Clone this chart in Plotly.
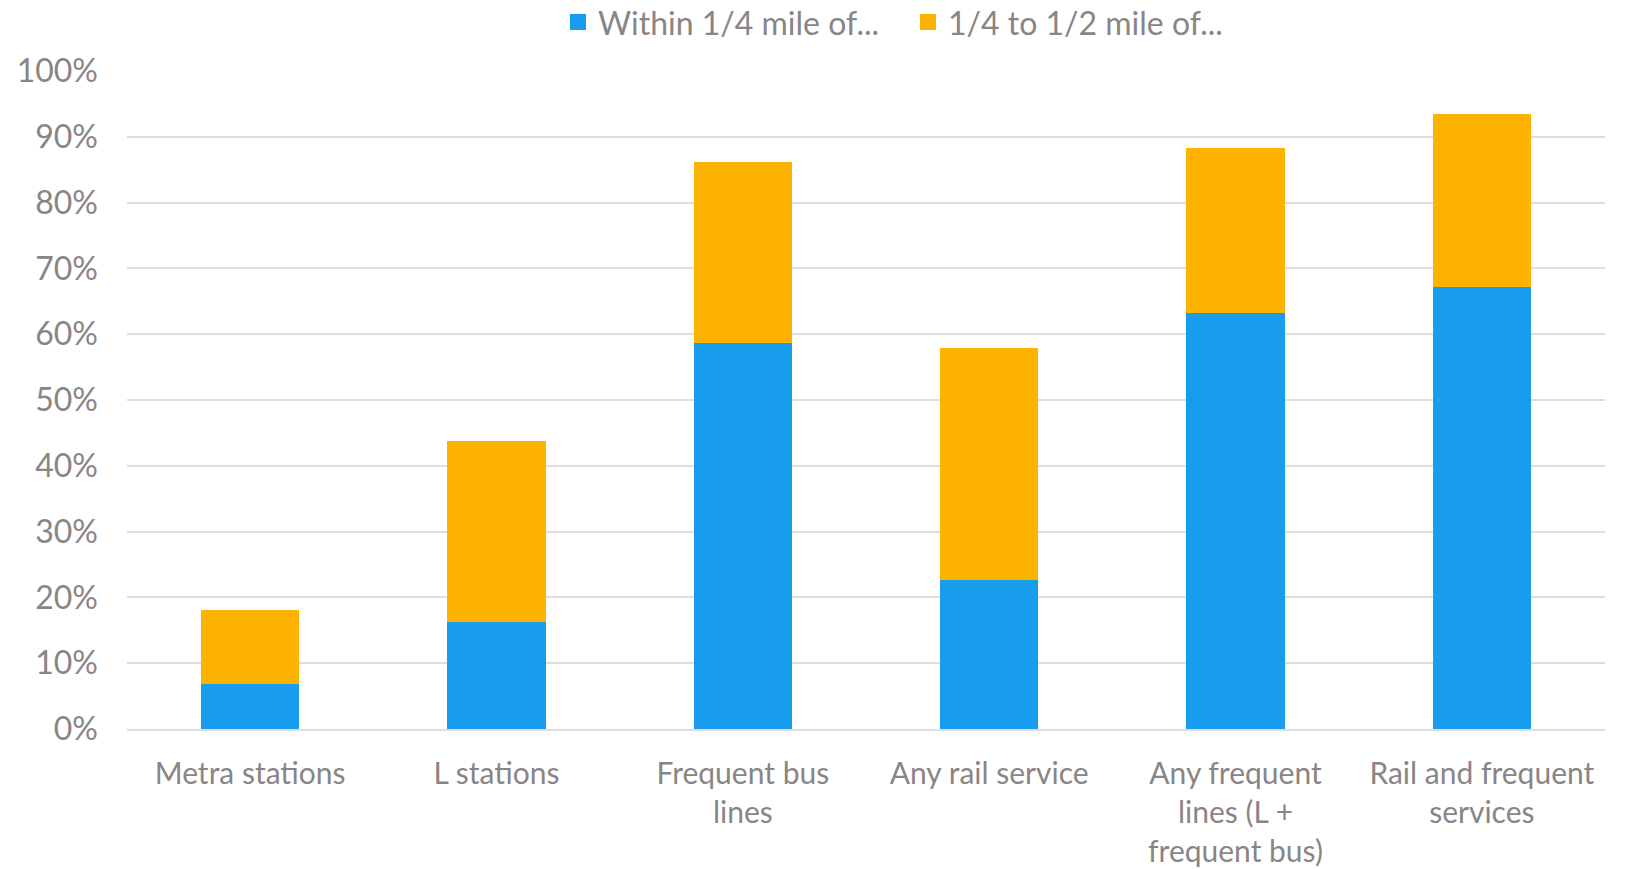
import plotly.graph_objects as go

categories = ["Metra stations", "L stations", "Frequent bus<br>lines", "Any rail service",
              "Any frequent<br>lines (L +<br>frequent bus)", "Rail and frequent<br>services"]
series_names = ["Within 1/4 mile of...", "1/4 to 1/2 mile of..."]
within_quarter = [0.068, 0.163, 0.586, 0.227, 0.632, 0.671]
quarter_to_half = [0.113, 0.274, 0.276, 0.352, 0.251, 0.264]
colors = ["#179deb", "#fdb300"]

text_color = "#8a8585"
font = dict(family="Lato", size=32, color=text_color)
xfont = dict(family="Lato", size=30, color=text_color)

fig = go.Figure()
for name, vals, col in zip(series_names, [within_quarter, quarter_to_half], colors):
    fig.add_trace(go.Bar(x=categories, y=vals, name=name, showlegend=False,
                         marker=dict(color=col, line=dict(width=0))))
    # legend-only entry so the swatch can be a bigger square
    fig.add_trace(go.Scatter(x=[None], y=[None], mode="markers", name=name,
                             marker=dict(symbol="square", size=17, color=col)))

# page body has an 8px margin, so margins are shifted up/left by 8
fig.update_layout(
    barmode="stack",
    bargap=0.6,
    width=1637, height=869,
    margin=dict(l=119, r=40, t=63, b=148, autoexpand=False),
    paper_bgcolor="white", plot_bgcolor="white",
    font=font,
    legend=dict(orientation="h", x=0.2916, xanchor="left", y=1.074, yanchor="middle",
                font=font, itemwidth=30, entrywidth=305, traceorder="normal"),
    xaxis=dict(showgrid=False, showline=True, linecolor="#dedede", linewidth=2,
               tickfont=xfont, ticks="", ticklabelstandoff=17, automargin=False),
    yaxis=dict(range=[0, 1], dtick=0.1, tickformat=".0%", showgrid=True,
               gridcolor="#dedede", gridwidth=2, zeroline=False,
               tickfont=font, ticklabelstandoff=28, automargin=False),
)

fig.write_html("out.html")
